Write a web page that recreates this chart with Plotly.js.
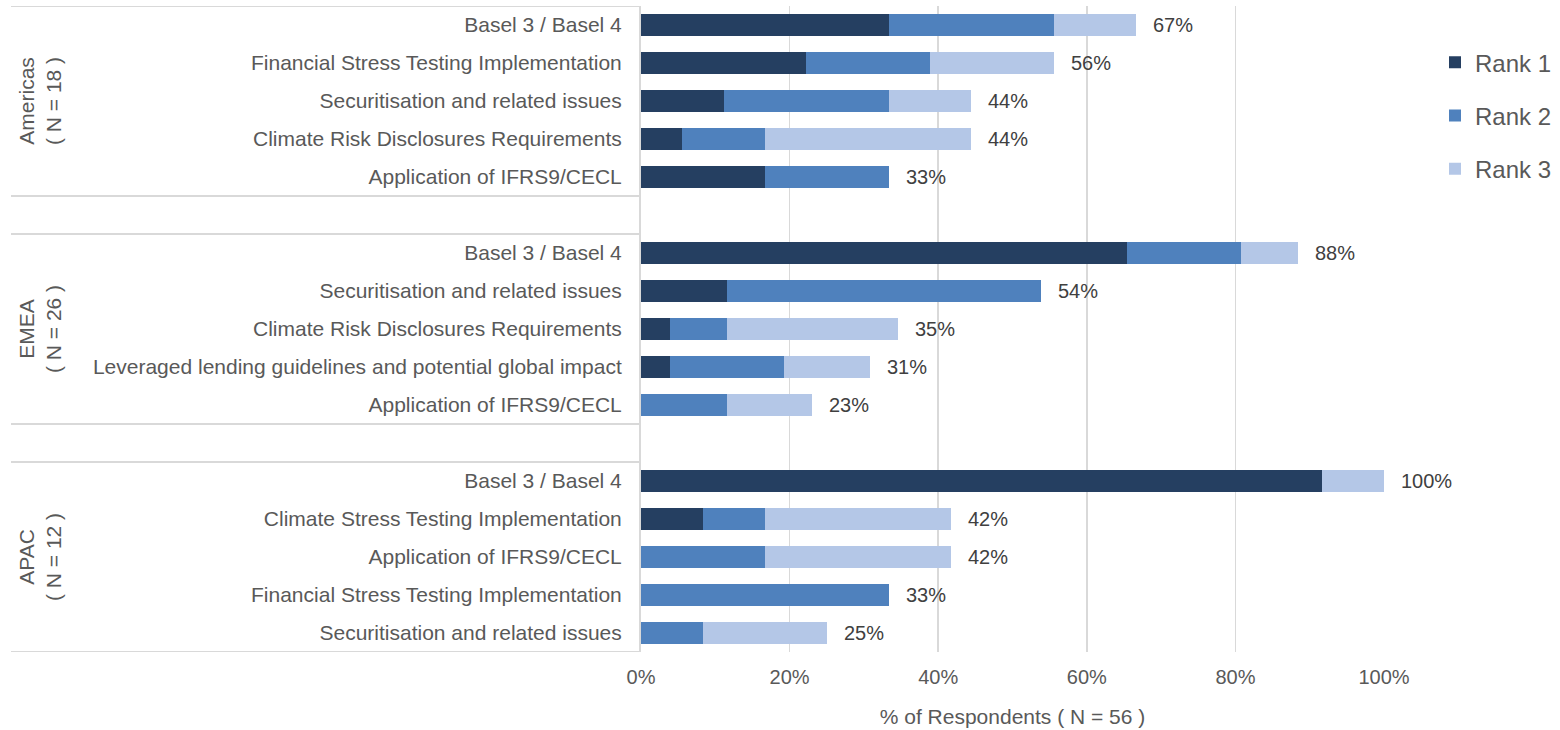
<!DOCTYPE html>
<html>
<head>
<meta charset="utf-8">
<script src="https://cdn.plot.ly/plotly-3.0.1.min.js"></script>
<style>
  html, body { margin: 0; padding: 0; background: #ffffff; }
  #chart { width: 1560px; height: 730px; }
</style>
</head>
<body>
<div id="chart"></div>
<script>
// ---- Data (percent of respondents in each region) ----
const regionNames = ['Americas', 'EMEA', 'APAC'];
const regionN = [18, 26, 12];

const americasTopics = ['Basel 3 / Basel 4', 'Financial Stress Testing Implementation', 'Securitisation and related issues', 'Climate Risk Disclosures Requirements', 'Application of IFRS9/CECL'];
const americasRank1 = [33.33, 22.22, 11.11, 5.56, 16.67];
const americasRank2 = [22.22, 16.67, 22.22, 11.11, 16.67];
const americasRank3 = [11.11, 16.67, 11.11, 27.78, 0];

const emeaTopics = ['Basel 3 / Basel 4', 'Securitisation and related issues', 'Climate Risk Disclosures Requirements', 'Leveraged lending guidelines and potential global impact', 'Application of IFRS9/CECL'];
const emeaRank1 = [65.38, 11.54, 3.85, 3.85, 0];
const emeaRank2 = [15.38, 42.31, 7.69, 15.38, 11.54];
const emeaRank3 = [7.69, 0, 23.08, 11.54, 11.54];

const apacTopics = ['Basel 3 / Basel 4', 'Climate Stress Testing Implementation', 'Application of IFRS9/CECL', 'Financial Stress Testing Implementation', 'Securitisation and related issues'];
const apacRank1 = [91.67, 8.33, 0, 0, 0];
const apacRank2 = [0, 8.33, 16.67, 33.33, 8.33];
const apacRank3 = [8.33, 25.0, 25.0, 0, 16.67];

const rankNames = ['Rank 1', 'Rank 2', 'Rank 3'];
const rankColors = ['#253f61', '#4f81bd', '#b4c7e7'];
const xTickVals = [0, 20, 40, 60, 80, 100];
const xTitle = '% of Respondents ( N = 56 )';

// ---- Build ----
const regionTopics = [americasTopics, emeaTopics, apacTopics];
const regionRanks = [
  [americasRank1, americasRank2, americasRank3],
  [emeaRank1, emeaRank2, emeaRank3],
  [apacRank1, apacRank2, apacRank3]
];
const STEP = 6; // 5 rows + 1 blank row per region

const yPos = [], yText = [];
const rankX = [[], [], []];
const totals = [];
regionTopics.forEach((topics, g) => {
  topics.forEach((t, i) => {
    yPos.push(g * STEP + i);
    yText.push(t);
    let s = 0;
    for (let r = 0; r < 3; r++) {
      const v = regionRanks[g][r][i];
      rankX[r].push(v);
      s += v;
    }
    totals.push(s);
  });
});

const FONT = 'Liberation Sans, Arial, sans-serif';
const TXT = '#595959';

const traces = rankNames.map((name, r) => ({
  type: 'bar',
  orientation: 'h',
  name: name,
  legendgroup: name,
  x: rankX[r],
  y: yPos,
  width: 0.58,
  marker: { color: rankColors[r], line: { width: 0 } },
  hoverinfo: 'x+name'
}));

const annotations = [];
totals.forEach((tot, k) => {
  annotations.push({
    x: tot, y: yPos[k], xref: 'x', yref: 'y',
    text: Math.round(tot) + '%',
    showarrow: false, xanchor: 'left', yanchor: 'middle', xshift: 15,
    font: { family: FONT, size: 20, color: '#404040' }
  });
});

const plotLeft = 641, plotW = 743;
const lineX0 = (11 - plotLeft) / plotW;
const labelX = (40 - plotLeft) / plotW;

const shapes = [];
regionNames.forEach((name, g) => {
  annotations.push({
    x: labelX, y: g * STEP + 2, xref: 'paper', yref: 'y',
    text: name + '<br>( N = ' + regionN[g] + ' )',
    textangle: -90, showarrow: false, xanchor: 'center', yanchor: 'middle',
    font: { family: FONT, size: 21, color: TXT }
  });
  [g * STEP - 0.5, g * STEP + 4.5].forEach(yy => {
    shapes.push({
      type: 'line', xref: 'paper', yref: 'y',
      x0: lineX0, x1: 0, y0: yy, y1: yy,
      line: { color: '#d9d9d9', width: 2 }
    });
  });
});

const layout = {
  width: 1560, height: 730,
  margin: { l: plotLeft, r: 1560 - plotLeft - plotW, t: 6, b: 78, autoexpand: false },
  paper_bgcolor: '#ffffff', plot_bgcolor: '#ffffff',
  barmode: 'stack',
  font: { family: FONT, size: 21, color: TXT },
  xaxis: {
    range: [0, 100], tickmode: 'array', tickvals: xTickVals,
    ticktext: xTickVals.map(v => v + '%'),
    showgrid: true, gridcolor: '#d9d9d9', gridwidth: 1.5,
    zeroline: false, showline: false, ticks: '', ticklabelstandoff: 11,
    tickfont: { family: FONT, size: 20, color: TXT },
    title: { text: xTitle, font: { family: FONT, size: 21, color: TXT }, standoff: 22 }
  },
  yaxis: {
    range: [16.5, -0.5], tickmode: 'array', tickvals: yPos, ticktext: yText,
    showgrid: false, zeroline: false, showline: true, linecolor: '#d9d9d9', linewidth: 2,
    ticks: '', ticklabelstandoff: 13,
    tickfont: { family: FONT, size: 21, color: TXT }
  },
  legend: {
    x: (1435 - plotLeft) / plotW, xanchor: 'left', y: 0.947, yanchor: 'top',
    traceorder: 'grouped', tracegroupgap: 19,
    font: { family: FONT, size: 24, color: TXT },
    itemwidth: 30, bgcolor: 'rgba(0,0,0,0)'
  },
  annotations: annotations,
  shapes: shapes,
  showlegend: true
};

Plotly.newPlot('chart', traces, layout, { displayModeBar: false, staticPlot: true });
</script>
</body>
</html>
